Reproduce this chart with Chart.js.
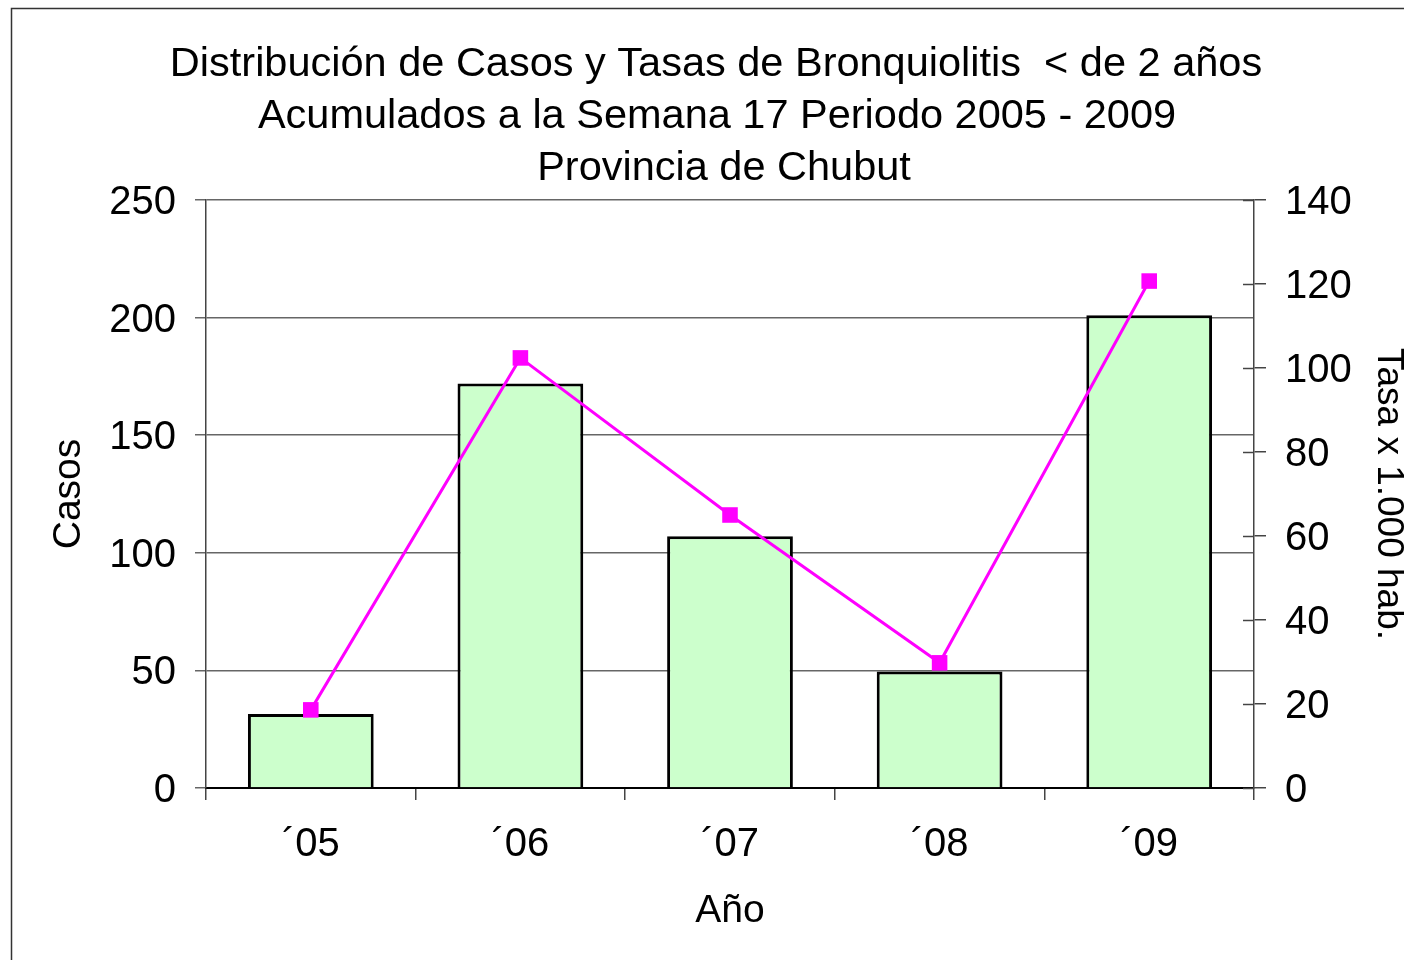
<!DOCTYPE html>
<html>
<head>
<meta charset="utf-8">
<script src="https://cdn.jsdelivr.net/npm/chart.js@4/dist/chart.umd.min.js"></script>
<style>
  html, body { margin: 0; padding: 0; background: #fff; }
  #c { display: block; }
</style>
</head>
<body>
<canvas id="c" width="1404" height="960"></canvas>
<script>
const titleLines = [
  'Distribución de Casos y Tasas de Bronquiolitis  < de 2 años',
  'Acumulados a la Semana 17 Periodo 2005 - 2009',
  'Provincia de Chubut'
];
const categories = ['´05', '´06', '´07', '´08', '´09'];
const casos = [31.5, 172, 107, 49.5, 201];
const tasa = [18.6, 102.4, 65, 29.8, 120.7];
const casosTicks = [0, 50, 100, 150, 200, 250];
const tasaTicks = [0, 20, 40, 60, 80, 100, 120, 140];

const FONT = '"Liberation Sans", Arial, sans-serif';

const framePlugin = {
  id: 'frame',
  beforeDraw(chart) {
    const ctx = chart.ctx;
    ctx.save();
    ctx.fillStyle = '#ffffff';
    ctx.fillRect(0, 0, chart.width, chart.height);
    ctx.strokeStyle = '#333333';
    ctx.lineWidth = 1.5;
    ctx.strokeRect(11.5, 8.5, 1420, 980);
    ctx.restore();
  },
  afterDraw(chart) {
    const ctx = chart.ctx;
    ctx.save();
    // title
    ctx.fillStyle = '#000';
    ctx.font = '41.5px ' + FONT;
    ctx.textAlign = 'center';
    ctx.textBaseline = 'alphabetic';
    const cx = [716, 717, 724];
    const by = [76, 128, 180];
    titleLines.forEach((t, i) => ctx.fillText(t, cx[i], by[i]));
    // inner tick marks for right axis
    const s = chart.scales.y2;
    ctx.strokeStyle = '#444';
    ctx.lineWidth = 1.5;
    s.ticks.forEach(tk => {
      const y = Math.round(s.getPixelForValue(tk.value)) + 0.5;
      ctx.beginPath();
      ctx.moveTo(s.left - 11, y);
      ctx.lineTo(s.left, y);
      ctx.stroke();
    });
    ctx.restore();
  }
};

new Chart(document.getElementById('c'), {
  data: {
    labels: categories,
    datasets: [
      {
        type: 'line',
        label: 'Tasa',
        data: tasa,
        yAxisID: 'y2',
        borderColor: '#FF00FF',
        backgroundColor: '#FF00FF',
        borderWidth: 3,
        pointStyle: 'rect',
        pointRadius: 11,
        pointBorderWidth: 0,
        pointBackgroundColor: '#FF00FF',
        tension: 0,
        order: 0
      },
      {
        type: 'bar',
        label: 'Casos',
        data: casos,
        yAxisID: 'y',
        backgroundColor: '#CCFFCC',
        borderColor: '#000000',
        borderWidth: 3,
        barPercentage: 0.6,
        categoryPercentage: 1,
        order: 1
      }
    ]
  },
  options: {
    responsive: false,
    animation: false,
    devicePixelRatio: 1,
    layout: { padding: { top: 200, left: 0, right: 0, bottom: 0 } },
    plugins: {
      legend: { display: false },
      title: { display: false },
      tooltip: { enabled: false }
    },
    scales: {
      x: {
        type: 'category',
        grid: {
          display: true,
          offset: true,
          drawOnChartArea: false,
          drawTicks: true,
          tickLength: 12,
          color: '#444',
          lineWidth: 1.5
        },
        border: { display: true, color: '#000', width: 2 },
        ticks: {
          color: '#000',
          font: { family: FONT, size: 40 },
          padding: 21,
          maxRotation: 0
        },
        title: {
          display: true,
          text: 'Año',
          color: '#000',
          font: { family: FONT, size: 39, lineHeight: 1.2 },
          padding: { top: 0, bottom: 25 }
        },
        afterFit(scale) { scale.height = 172; }
      },
      y: {
        position: 'left',
        min: 0,
        max: 250,
        afterBuildTicks(scale) { scale.ticks = casosTicks.map(v => ({ value: v })); },
        grid: {
          display: true,
          drawOnChartArea: true,
          drawTicks: true,
          tickLength: 11,
          color: '#666',
          lineWidth: 1.5
        },
        border: { display: true, color: '#444', width: 1.5 },
        ticks: {
          color: '#000',
          font: { family: FONT, size: 40 },
          padding: 19,
          labelOffset: 3
        },
        title: {
          display: true,
          text: 'Casos',
          color: '#000',
          font: { family: FONT, size: 39, lineHeight: 1.2 },
          padding: { top: 46, bottom: 0 }
        },
        afterFit(scale) { scale.width = 206; }
      },
      y2: {
        position: 'right',
        min: 0,
        max: 140,
        afterBuildTicks(scale) { scale.ticks = tasaTicks.map(v => ({ value: v })); },
        grid: {
          display: true,
          drawOnChartArea: false,
          drawTicks: true,
          tickLength: 12,
          color: '#444',
          lineWidth: 1.5
        },
        border: { display: true, color: '#444', width: 1.5 },
        ticks: {
          color: '#000',
          font: { family: FONT, size: 40 },
          padding: 19,
          labelOffset: 3
        },
        title: {
          display: true,
          text: 'Tasa x 1.000 hab.',
          color: '#000',
          font: { family: FONT, size: 37, lineHeight: 0.8 },
          padding: { top: 1, bottom: 0 }
        },
        afterFit(scale) { scale.width = 150; }
      }
    }
  },
  plugins: [framePlugin]
});
</script>
</body>
</html>
